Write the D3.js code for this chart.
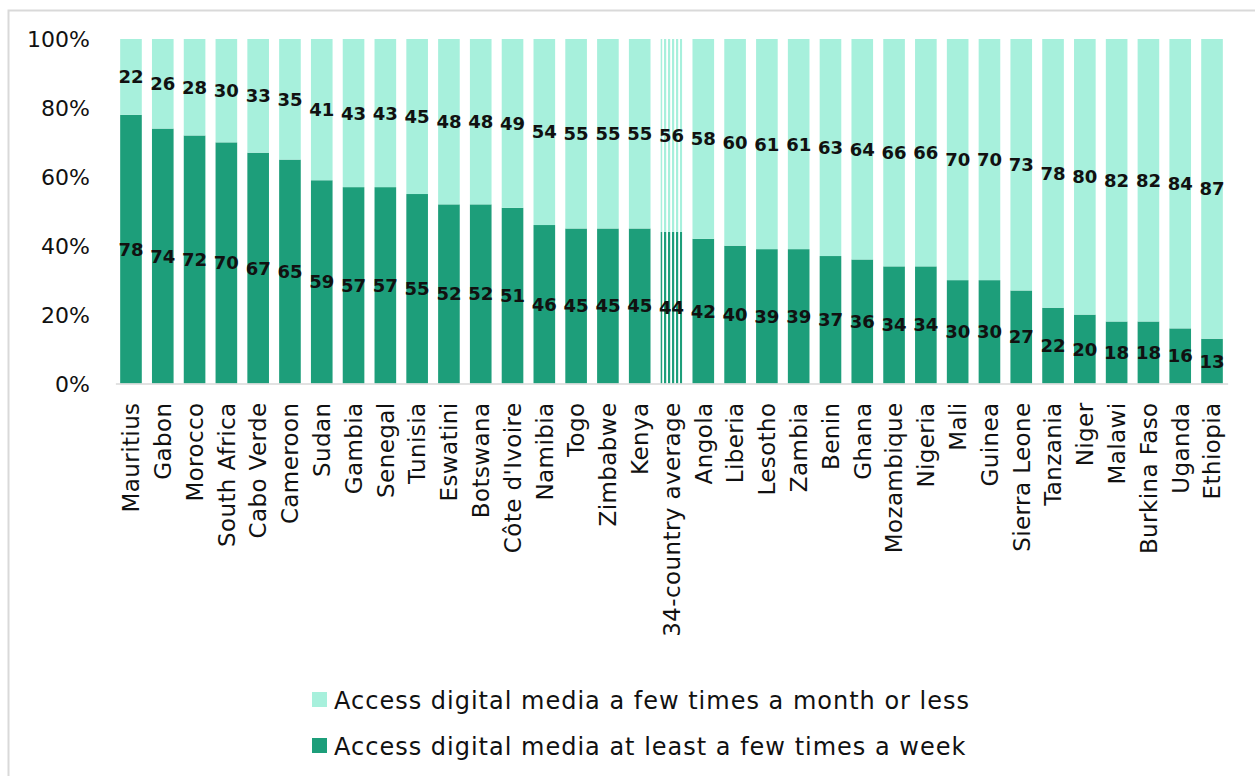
<!DOCTYPE html>
<html>
<head>
<meta charset="utf-8">
<script src="https://cdn.jsdelivr.net/npm/d3@7"></script>
<style>
  html, body { margin: 0; padding: 0; background: #ffffff; }
  svg { display: block; }
  text { font-family: "DejaVu Sans", sans-serif; fill: #111; }
</style>
</head>
<body>
<svg id="chart" width="1255" height="776"></svg>
<script>
// Share of adults by how often they access digital media (%)
const countries = [
  "Mauritius", "Gabon", "Morocco", "South Africa", "Cabo Verde", "Cameroon",
  "Sudan", "Gambia", "Senegal", "Tunisia", "Eswatini", "Botswana",
  "Côte d'Ivoire", "Namibia", "Togo", "Zimbabwe", "Kenya", "34-country average",
  "Angola", "Liberia", "Lesotho", "Zambia", "Benin", "Ghana", "Mozambique",
  "Nigeria", "Mali", "Guinea", "Sierra Leone", "Tanzania", "Niger", "Malawi",
  "Burkina Faso", "Uganda", "Ethiopia"
];
const weeklyOrMore = [
  78, 74, 72, 70, 67, 65, 59, 57, 57, 55, 52, 52, 51, 46, 45, 45, 45, 44,
  42, 40, 39, 39, 37, 36, 34, 34, 30, 30, 27, 22, 20, 18, 18, 16, 13
];
const monthlyOrLess = [
  22, 26, 28, 30, 33, 35, 41, 43, 43, 45, 48, 48, 49, 54, 55, 55, 55, 56,
  58, 60, 61, 61, 63, 64, 66, 66, 70, 70, 73, 78, 80, 82, 82, 84, 87
];
const yTicks = [0, 20, 40, 60, 80, 100];
const seriesNames = [
  "Access digital media at least a few times a week",
  "Access digital media a few times a month or less"
];
const averageLabel = "34-country average";

const darkGreen = "#1d9e7a";
const lightGreen = "#a7f0dc";

const svg = d3.select("#chart");

// Outer frame
svg.append("rect")
  .attr("x", 8.5).attr("y", 10.5)
  .attr("width", 1270).attr("height", 800)
  .attr("fill", "none").attr("stroke", "#d9d9d9").attr("stroke-width", 2);

// Striped fills for the average bar
const defs = svg.append("defs");
[["stripe-dark", darkGreen], ["stripe-light", lightGreen]].forEach(([id, c]) => {
  const p = defs.append("pattern")
    .attr("id", id).attr("patternUnits", "userSpaceOnUse")
    .attr("width", 4).attr("height", 4);
  p.append("rect").attr("width", 4).attr("height", 4).attr("fill", "#ffffff");
  p.append("rect").attr("width", 2.2).attr("height", 4).attr("fill", c);
});

const x = d3.scaleBand()
  .domain(countries)
  .range([115.4, 1227.6])
  .paddingInner(0.32)
  .paddingOuter(0.15);

const y = d3.scaleLinear().domain([0, 100]).range([383.5, 39]);

const rows = countries.map((c, i) => ({
  country: c, weekly: weeklyOrMore[i], monthly: monthlyOrLess[i]
}));
const stack = d3.stack().keys(["weekly", "monthly"]);
const layers = stack(rows);

// Y axis labels (no line, no ticks)
const yAxis = d3.axisLeft(y)
  .tickValues(yTicks)
  .tickFormat(d => d + "%")
  .tickSize(0)
  .tickPadding(0);
const yG = svg.append("g").attr("transform", "translate(90,0)").call(yAxis);
yG.select(".domain").remove();
yG.selectAll("text")
  .style("font-family", "'DejaVu Sans', sans-serif")
  .style("font-size", "22px")
  .style("fill", "#111")
  .attr("dy", "0.36em");

// Bars
layers.forEach(layer => {
  const key = layer.key;
  const solid = key === "weekly" ? darkGreen : lightGreen;
  const striped = key === "weekly" ? "url(#stripe-dark)" : "url(#stripe-light)";
  svg.append("g").selectAll("rect")
    .data(layer)
    .join("rect")
    .attr("x", d => x(d.data.country))
    .attr("width", x.bandwidth())
    .attr("y", d => y(d[1]))
    .attr("height", d => y(d[0]) - y(d[1]))
    .attr("fill", d => d.data.country === averageLabel ? striped : solid);

  // Value labels centred in each segment
  svg.append("g").selectAll("text")
    .data(layer)
    .join("text")
    .attr("x", d => x(d.data.country) + x.bandwidth() / 2)
    .attr("y", d => y((d[0] + d[1]) / 2))
    .attr("dy", "0.36em")
    .attr("text-anchor", "middle")
    .style("font-size", "18px")
    .style("font-weight", "bold")
    .text(d => d.data[key]);
});

// X axis baseline and rotated category labels
const xAxis = d3.axisBottom(x).tickSize(0).tickPadding(0);
const xG = svg.append("g").attr("transform", "translate(0,383.5)").call(xAxis);
xG.select(".domain").attr("stroke", "#d9d9d9").attr("stroke-width", 1.5);
xG.selectAll("text")
  .style("font-family", "'DejaVu Sans', sans-serif")
  .style("font-size", "23px")
  .style("letter-spacing", "0.4px")
  .style("fill", "#111")
  .attr("text-anchor", "end")
  .attr("transform", "translate(0,19) rotate(-90)")
  .attr("y", 0)
  .attr("x", 0)
  .attr("dy", "0.36em");

// Legend
const legendItems = [
  { name: seriesNames[1], color: lightGreen, y: 700 },
  { name: seriesNames[0], color: darkGreen, y: 746 }
];
const lg = svg.append("g");
legendItems.forEach(it => {
  lg.append("rect")
    .attr("x", 312).attr("y", it.y - 8)
    .attr("width", 15).attr("height", 15)
    .attr("fill", it.color);
  lg.append("text")
    .attr("x", 334).attr("y", it.y)
    .attr("dy", "0.36em")
    .style("font-size", "24px")
    .style("letter-spacing", "1px")
    .text(it.name);
});
</script>
</body>
</html>
